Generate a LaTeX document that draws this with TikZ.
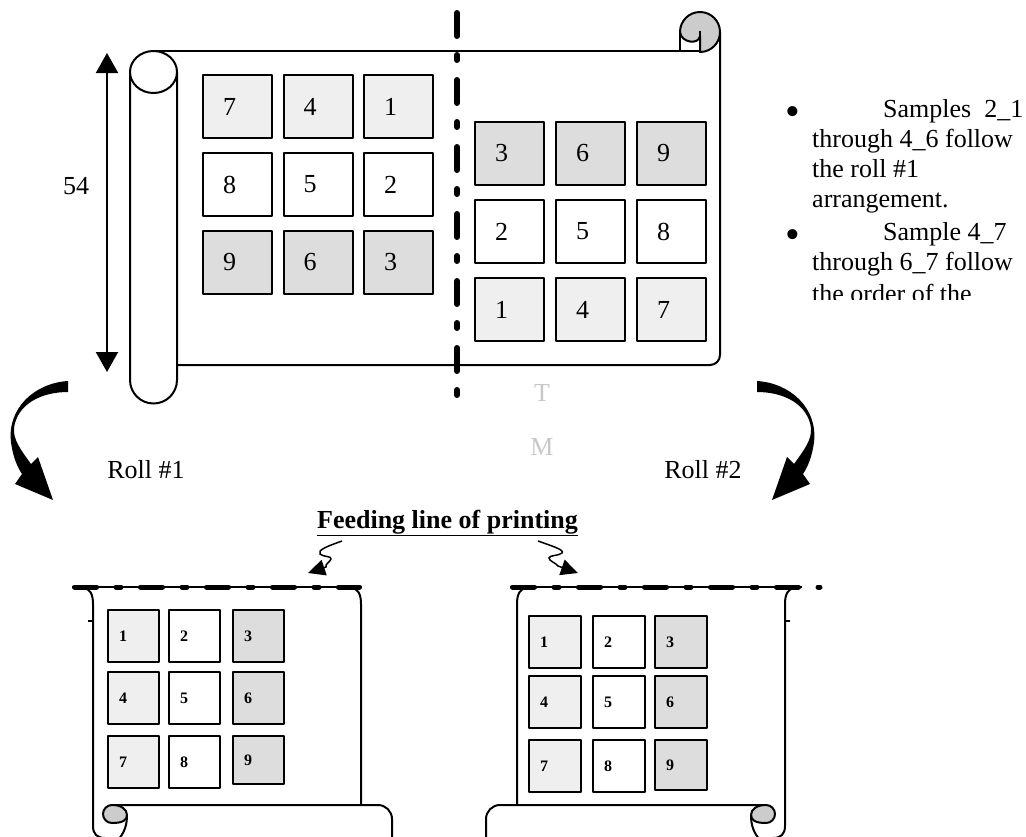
\documentclass[tikz,border=0pt]{standalone}
\usepackage{fontspec}
\setmainfont{Liberation Serif}
\usetikzlibrary{arrows.meta}

\definecolor{cellpale}{HTML}{EFEFEF}
\definecolor{celldark}{HTML}{DDDDDD}
\definecolor{curlfill}{HTML}{CCCCCC}
\definecolor{faintmark}{HTML}{C8C8C8}

\tikzset{
  outline/.style={draw=black, line width=2pt, line join=round},
  cellbig/.style={outline, anchor=north west, minimum height=63pt, text width=29pt,
    inner xsep=20pt, inner ysep=0pt, align=left, font=\fontsize{26}{26}\selectfont},
  cellsmall/.style={outline, anchor=north west, minimum height=52pt, text width=29pt,
    inner xsep=11pt, inner ysep=0pt, align=left, font=\bfseries\fontsize{16}{16}\selectfont},
  palefill/.style={fill=cellpale},
  darkfill/.style={fill=celldark},
  whitefill/.style={fill=white},
  body/.style={font=\fontsize{26}{30}\selectfont, inner sep=0pt, anchor=base west},
  lab/.style={font=\fontsize{26}{30}\selectfont, inner sep=0pt},
  bul/.style={font=\fontsize{42}{42}\selectfont, inner sep=0pt, anchor=base},
  cutline/.style={line width=6pt, line cap=round, dash pattern=on 23pt off 19pt on 5pt off 20pt},
  feedline/.style={line width=5pt, line cap=round, dash pattern=on 22pt off 19.5pt on 5pt off 19.5pt},
  squig/.style={line width=1.5pt, -{Triangle[length=17pt,width=16pt]}}
}

% vertical scroll with a rolled lower edge
\newcommand\scrollframe{%
  \draw[outline] (84,-588) .. controls (90,-589) and (93,-594) .. (93,-604) -- (93,-826)
    .. controls (93,-834) and (97,-838) .. (105,-838);
  \draw[outline] (88,-621) -- (93,-621);
  \draw[outline] (352,-588) .. controls (358,-589) and (361,-594) .. (361,-604) -- (361,-805);
  \draw[outline] (112,-805) -- (378,-805) arc[start angle=90,end angle=0,radius=14] -- (392,-850);
  \draw[outline, fill=curlfill] (112,-823) arc[start angle=270,end angle=90,radius=9]
    .. controls (121,-805) and (127,-809) .. (127,-815)
    .. controls (127,-820) and (123,-823) .. (112,-823) -- cycle;
  \draw[outline] (127,-815) .. controls (127,-826) and (124,-833) .. (118,-840);
}

% thick curved arrow turning downward
\newcommand\bentshape{%
  \fill (757,-381) .. controls (790,-383) and (818,-408) .. (814,-442)
    .. controls (812,-458) and (807,-468) .. (803,-474)
    -- (810,-484) -- (772,-500) -- (787,-457) -- (794,-464)
    .. controls (804,-450) and (812,-440) .. (811,-428)
    .. controls (808,-405) and (785,-392) .. (757,-392) -- cycle;
}

\begin{document}
\begin{tikzpicture}[x=1pt,y=1pt]
\useasboundingbox (0,0) rectangle (1026,-836);
\clip (0,0) rectangle (1026,-836);

% ---------- upper sheet ----------
\draw[outline] (153.5,-51) -- (700,-51);
\draw[outline] (177,-365) -- (710,-365) arc[start angle=-90,end angle=0,radius=10] -- (720,-32);
% curl at the upper right
\draw[outline, fill=curlfill] (700,-52) arc[start angle=-90,end angle=180,radius=20]
  .. controls (681,-43) and (699,-45) .. (700,-36) -- cycle;
\draw[outline] (680,-32) -- (680,-51);
\draw[outline] (700,-31) -- (700,-51);
% roll on the left
\draw[outline, fill=white] (130,-72) -- (130,-380) arc[start angle=180,end angle=360,radius=23.5] -- (177,-72);
\draw[outline, fill=white] (153.5,-72) ellipse[x radius=23.5, y radius=21];

% width of the sheet
\coordinate (dimtop) at (107,-53);
\coordinate (dimbot) at (107,-372);
\draw[line width=2pt, {Triangle[length=20pt,width=22pt]}-{Triangle[length=20pt,width=22pt]}] (dimtop) -- (dimbot);
\node[lab] (span) at (76,-186) {54};

% left half of the sheet
\node[cellbig, palefill] (ul7) at (202,-74) {7};
\node[cellbig, palefill] (ul4) at (282.5,-74) {4};
\node[cellbig, palefill] (ul1) at (363,-74) {1};
\node[cellbig, whitefill] (ul8) at (202,-152) {8};
\node[cellbig, whitefill] (ul5) at (282.5,-152) {5};
\node[cellbig, whitefill] (ul2) at (363,-152) {2};
\node[cellbig, darkfill] (ul9) at (202,-230) {9};
\node[cellbig, darkfill] (ul6) at (282.5,-230) {6};
\node[cellbig, darkfill] (ul3) at (363,-230) {3};

% right half of the sheet
\node[cellbig, darkfill] (ur3) at (474,-121) {3};
\node[cellbig, darkfill] (ur6) at (555,-121) {6};
\node[cellbig, darkfill] (ur9) at (636,-121) {9};
\node[cellbig, whitefill] (ur2) at (474,-199) {2};
\node[cellbig, whitefill] (ur5) at (555,-199) {5};
\node[cellbig, whitefill] (ur8) at (636,-199) {8};
\node[cellbig, palefill] (ur1) at (474,-277) {1};
\node[cellbig, palefill] (ur4) at (555,-277) {4};
\node[cellbig, palefill] (ur7) at (636,-277) {7};

% cutting line
\coordinate (cuttop) at (457,-13);
\coordinate (cutbot) at (457,-395);
\draw[cutline] (cuttop) -- (cutbot);

\node[lab, text=faintmark] (tmark) at (542,-393) {T};
\node[lab, text=faintmark] (mmark) at (542,-447) {M};

% notes
\begin{scope}
\clip (770,-60) rectangle (1026,-299);
\node[bul] (bulA) at (793,-125) {\textbullet};
\node[body] (nA1) at (883,-117) {Samples\ \ 2\_1};
\node[body] (nA2) at (812,-147) {through 4\_6 follow};
\node[body] (nA3) at (812,-177) {the roll \#1};
\node[body] (nA4) at (812,-207) {arrangement.};
\node[bul] (bulB) at (793,-248) {\textbullet};
\node[body] (nB1) at (883,-240) {Sample 4\_7};
\node[body] (nB2) at (812,-270) {through 6\_7 follow};
\node[body] (nB3) at (812,-302) {the order of the};
\end{scope}

% curved arrows to the two rolls
\bentshape
\begin{scope}[shift={(825,0)}, xscale=-1]
\bentshape
\end{scope}

\node[lab] (roll1) at (146,-470) {Roll \#1};
\node[lab] (roll2) at (703,-470) {Roll \#2};

% feeding direction
\node[font=\bfseries\fontsize{26}{30}\selectfont, inner sep=0pt, anchor=base] (feed) at (447.5,-528)
  {\underline{Feeding line of printing}};
\coordinate (sqL) at (342,-541);
\coordinate (tipL) at (308,-573);
\coordinate (sqR) at (538,-541);
\coordinate (tipR) at (578,-573);
\draw[squig] (sqL) .. controls (328,-546) and (317,-550) .. (320,-554)
  .. controls (323,-557) and (332,-556) .. (331,-559)
  .. controls (330,-562) and (325,-564) .. (326,-567) -- (tipL);
\draw[squig] (sqR) .. controls (552,-546) and (565,-550) .. (562,-553)
  .. controls (559,-556) and (549,-555) .. (549,-558)
  .. controls (549,-561) and (556,-563) .. (558,-566) -- (tipR);

% ---------- roll #1 ----------
\scrollframe
\coordinate (fa) at (72,-587);
\coordinate (fb) at (362,-587);
\draw[line width=1.3pt] (fa) -- (fb);
\draw[feedline] (74.5,-587) -- (359.5,-587);

\node[cellsmall, palefill] (l1) at (107,-609) {1};
\node[cellsmall, whitefill] (l2) at (168,-609) {2};
\node[cellsmall, darkfill] (l3) at (232,-609) {3};
\node[cellsmall, palefill] (l4) at (107,-671) {4};
\node[cellsmall, whitefill] (l5) at (168,-671) {5};
\node[cellsmall, darkfill] (l6) at (232,-671) {6};
\node[cellsmall, palefill] (l7) at (107,-735) {7};
\node[cellsmall, whitefill] (l8) at (168,-735) {8};
\node[cellsmall, darkfill, minimum height=48pt] (l9) at (232,-735) {9};

% ---------- roll #2 ----------
\begin{scope}[shift={(878,0)}, xscale=-1]
\scrollframe
\end{scope}
\coordinate (ga) at (510,-587);
\coordinate (gb) at (802,-587);
\draw[line width=1.3pt] (ga) -- (gb);
\draw[feedline] (512.5,-587) -- (820,-587);

\node[cellsmall, palefill, text width=30pt] (r1) at (528,-615) {1};
\node[cellsmall, whitefill, text width=30pt] (r2) at (592,-615) {2};
\node[cellsmall, darkfill, text width=30pt] (r3) at (654,-615) {3};
\node[cellsmall, palefill, text width=30pt] (r4) at (528,-675) {4};
\node[cellsmall, whitefill, text width=30pt] (r5) at (592,-675) {5};
\node[cellsmall, darkfill, text width=30pt] (r6) at (654,-675) {6};
\node[cellsmall, palefill, text width=30pt] (r7) at (528,-739) {7};
\node[cellsmall, whitefill, text width=30pt] (r8) at (592,-739) {8};
\node[cellsmall, darkfill, text width=30pt, minimum height=50pt] (r9) at (654,-739) {9};
\end{tikzpicture}
\end{document}
